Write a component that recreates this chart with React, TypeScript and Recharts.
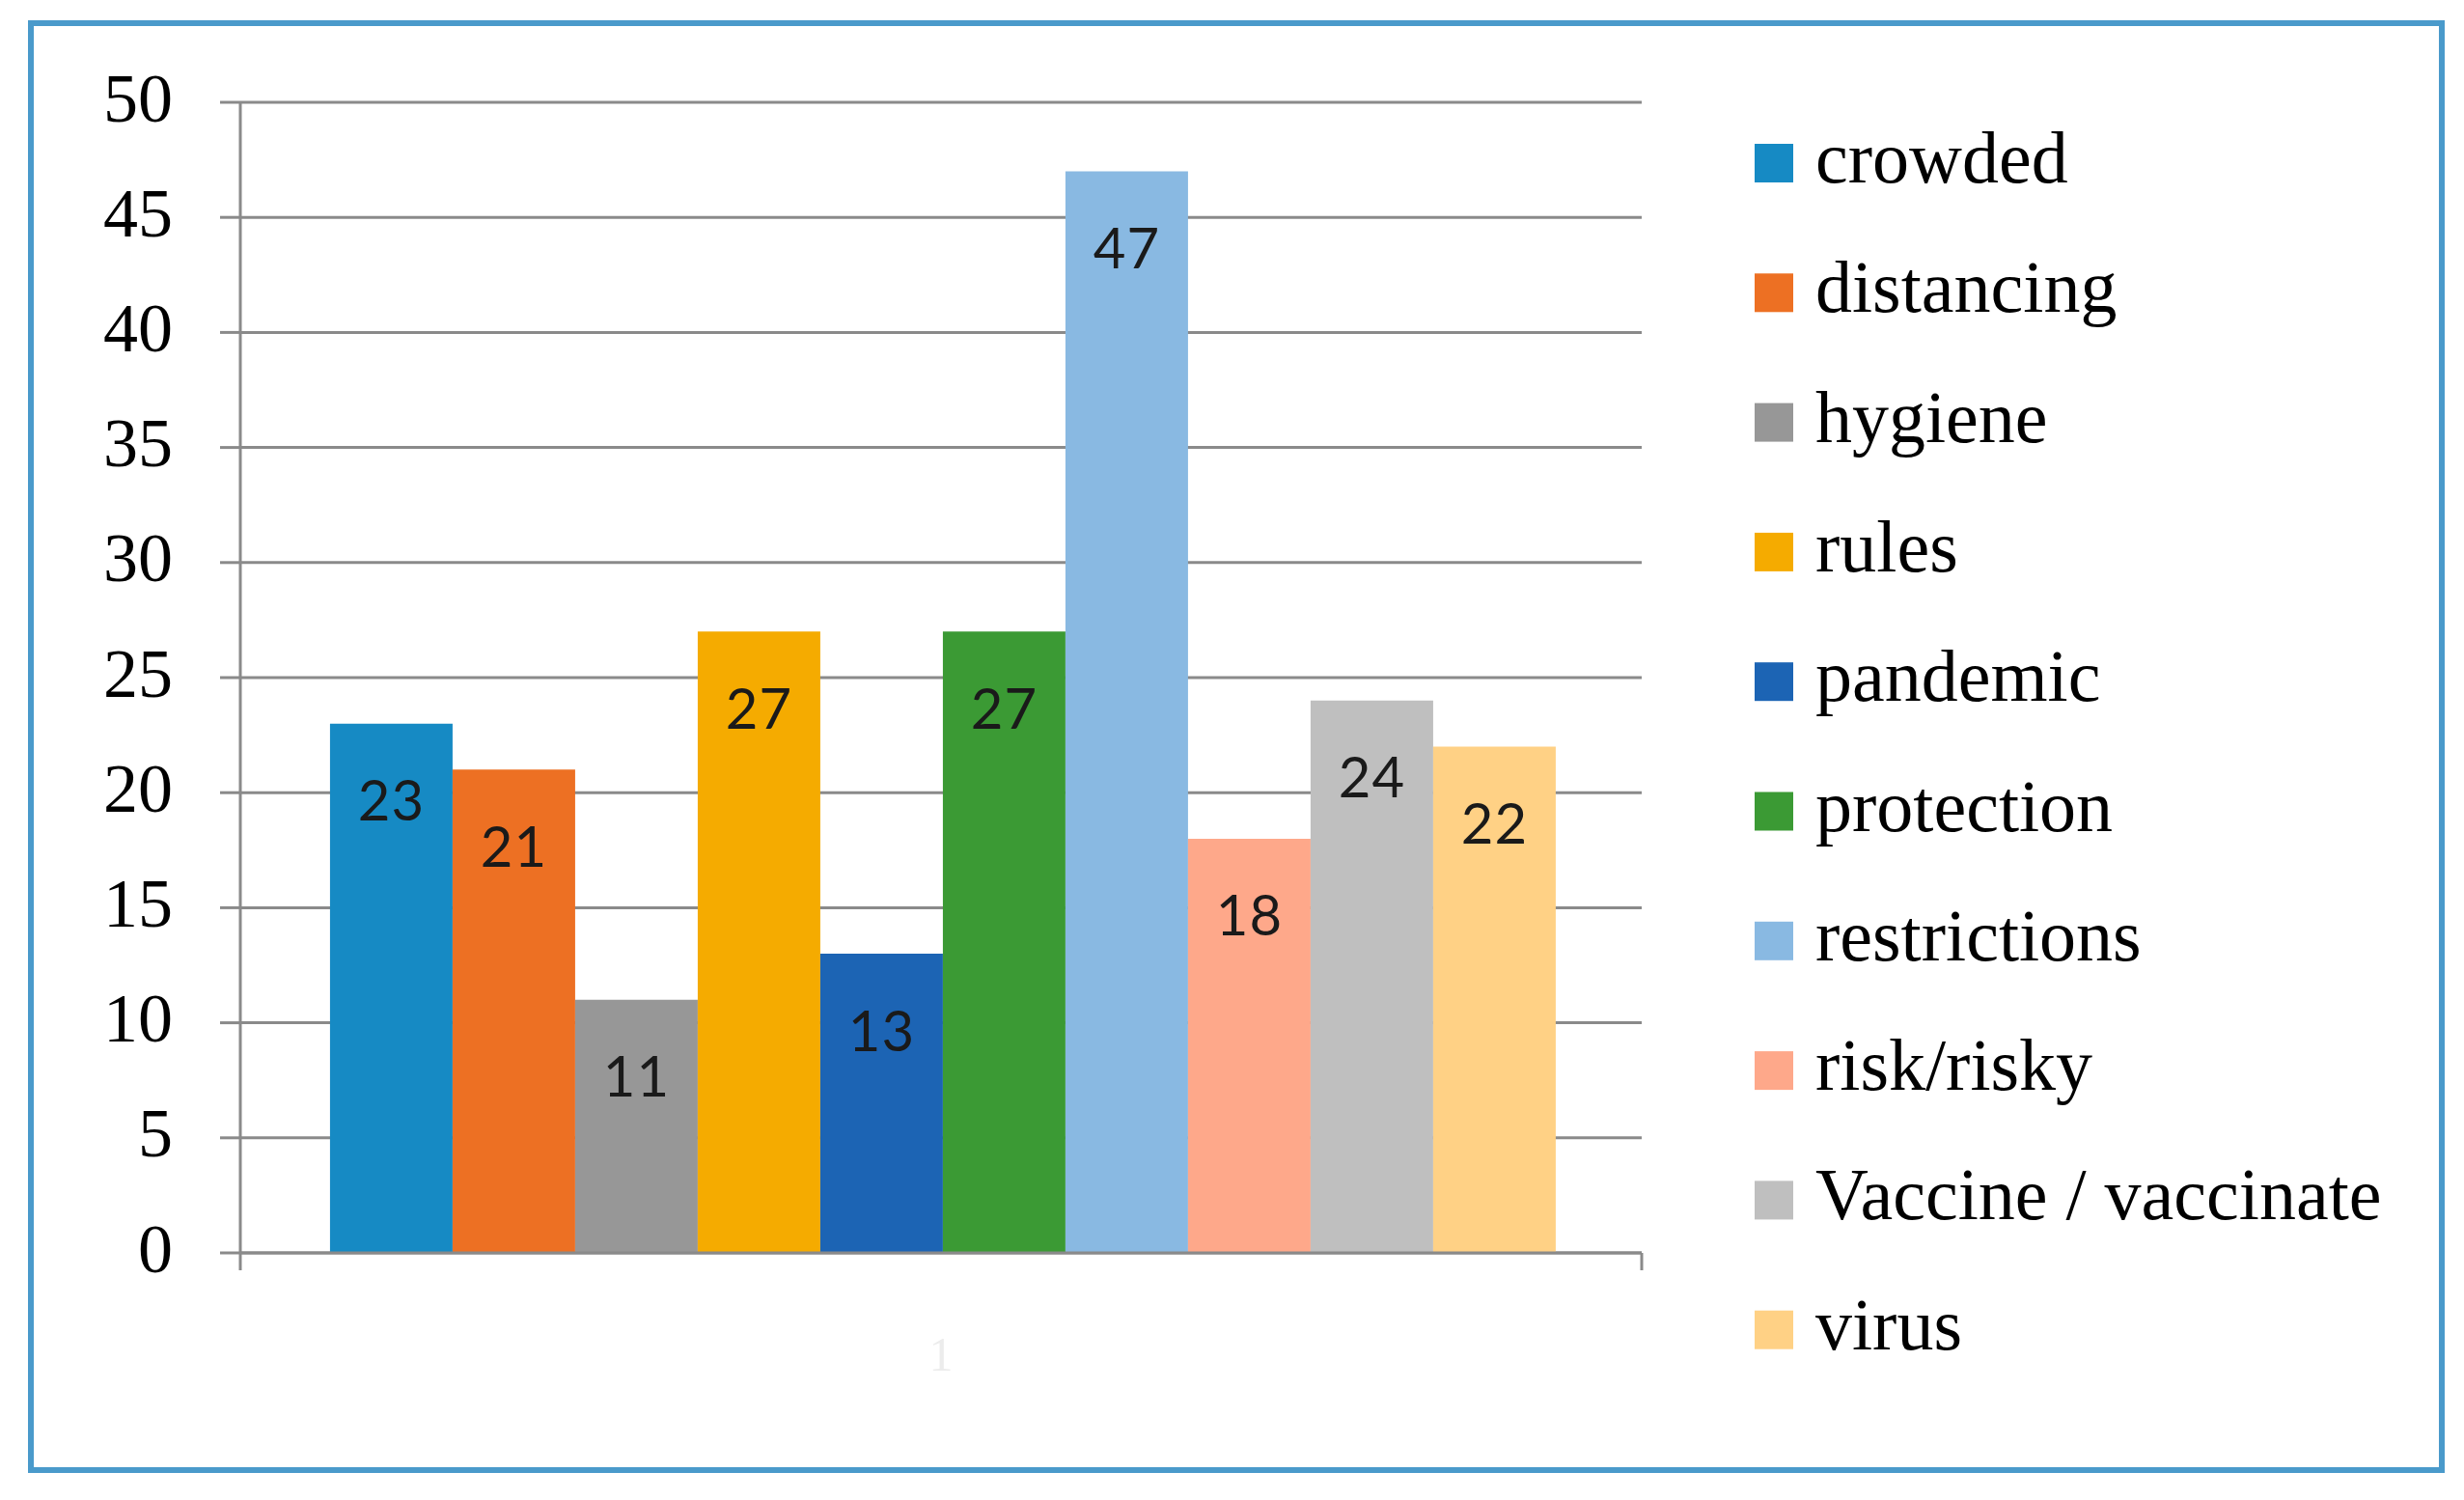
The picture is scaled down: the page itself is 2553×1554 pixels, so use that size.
import { Bar, BarChart, CartesianGrid, LabelList, XAxis, YAxis } from 'recharts';

const CATEGORIES = ['1'];
const SERIES_NAMES = [
	'crowded',
	'distancing',
	'hygiene',
	'rules',
	'pandemic',
	'protection',
	'restrictions',
	'risk/risky',
	'Vaccine / vaccinate',
	'virus',
];
const SERIES_VALUES = [23, 21, 11, 27, 13, 27, 47, 18, 24, 22];
const SERIES_COLORS = [
	'#168ac4',
	'#ed7023',
	'#979797',
	'#f5ab00',
	'#1c64b4',
	'#3b9a34',
	'#89b9e2',
	'#fea88a',
	'#bfbfbf',
	'#ffd185',
];
const Y_TICKS = [0, 5, 10, 15, 20, 25, 30, 35, 40, 45, 50];

const WIDTH = 2553;
const HEIGHT = 1554;
const GRID_STROKE = '#8a8a8a';
const SERIF = '"Liberation Serif", "Times New Roman", serif';
const LABEL_FONT = 'Lato, "Open Sans", sans-serif';

const LEGEND_X = 1818;
const LEGEND_TOP = 169;
const LEGEND_STEP = 134.3;
const SWATCH = 40;

const keyFor = (i: number) => `s${i}`;

const data = CATEGORIES.map((name) => {
	const row: Record<string, string | number> = { name };
	SERIES_VALUES.forEach((v, i) => {
		row[keyFor(i)] = v;
	});
	return row;
});

function InsideLabel(props: any) {
	const { x, y, width, value } = props;
	return (
		<text
			x={Number(x) + Number(width) / 2}
			y={Number(y) + 78}
			textAnchor="middle"
			dominantBaseline="central"
			fontFamily={LABEL_FONT}
			fontSize={58}
			letterSpacing={1}
			fill="#1a1a1a"
		>
			{value}
		</text>
	);
}

// category tick: faint label plus tick marks on the band edges (Excel style)
function CategoryTick(props: any) {
	const { x, y, payload } = props;
	const half = Number(payload?.offset ?? 0);
	return (
		<g>
			<line x1={x - half} x2={x - half} y1={y} y2={y + 18} stroke={GRID_STROKE} strokeWidth={3} />
			<line x1={x + half} x2={x + half} y1={y} y2={y + 18} stroke={GRID_STROKE} strokeWidth={3} />
			<text
				x={x}
				y={y + 105}
				textAnchor="middle"
				dominantBaseline="central"
				fontFamily={SERIF}
				fontSize={50}
				fill="#ececec"
			>
				{payload?.value}
			</text>
		</g>
	);
}

function Legend() {
	return (
		<svg
			width={WIDTH}
			height={HEIGHT}
			style={{ position: 'absolute', left: 0, top: 0, pointerEvents: 'none' }}
		>
			{SERIES_NAMES.map((name, i) => {
				const cy = LEGEND_TOP + i * LEGEND_STEP;
				return (
					<g key={name}>
						<rect
							x={LEGEND_X}
							y={cy - SWATCH / 2}
							width={SWATCH}
							height={SWATCH}
							fill={SERIES_COLORS[i]}
						/>
						<text
							x={LEGEND_X + 63}
							y={cy + SWATCH / 2}
							fontFamily={SERIF}
							fontSize={76}
							fill="#000"
						>
							{name}
						</text>
					</g>
				);
			})}
		</svg>
	);
}

export default function App() {
	return (
		<div
			style={{
				position: 'absolute',
				left: 0,
				top: 0,
				width: WIDTH,
				height: HEIGHT,
				background: '#fff',
			}}
		>
			<div
				style={{
					position: 'absolute',
					left: 29,
					top: 21,
					width: 2504,
					height: 1505,
					border: '6px solid #4a9acb',
					boxSizing: 'border-box',
				}}
			/>
			<div style={{ position: 'absolute', left: 0, top: 0 }}>
				<BarChart
					width={WIDTH}
					height={HEIGHT}
					data={data}
					margin={{ top: 106, right: 852, bottom: 106, left: 0 }}
					barCategoryGap="6.4%"
					barGap={0}
				>
					<CartesianGrid vertical={false} stroke={GRID_STROKE} strokeWidth={3} />
					<XAxis
						dataKey="name"
						height={150}
						tickSize={0}
						tickMargin={0}
						tickLine={false}
						axisLine={{ stroke: GRID_STROKE, strokeWidth: 3 }}
						tick={CategoryTick}
					/>
					<YAxis
						width={249}
						domain={[0, 50]}
						ticks={Y_TICKS}
						interval={0}
						tickSize={21}
						tickMargin={49}
						axisLine={{ stroke: GRID_STROKE, strokeWidth: 3 }}
						tickLine={{ stroke: GRID_STROKE, strokeWidth: 3 }}
						tick={{ fill: '#000', fontSize: 72, fontFamily: SERIF, dy: -6 }}
					/>
					{SERIES_NAMES.map((name, i) => (
						<Bar
							key={name}
							dataKey={keyFor(i)}
							name={name}
							fill={SERIES_COLORS[i]}
							isAnimationActive={false}
						>
							<LabelList dataKey={keyFor(i)} content={InsideLabel} />
						</Bar>
					))}
				</BarChart>
			</div>
			<Legend />
		</div>
	);
}
